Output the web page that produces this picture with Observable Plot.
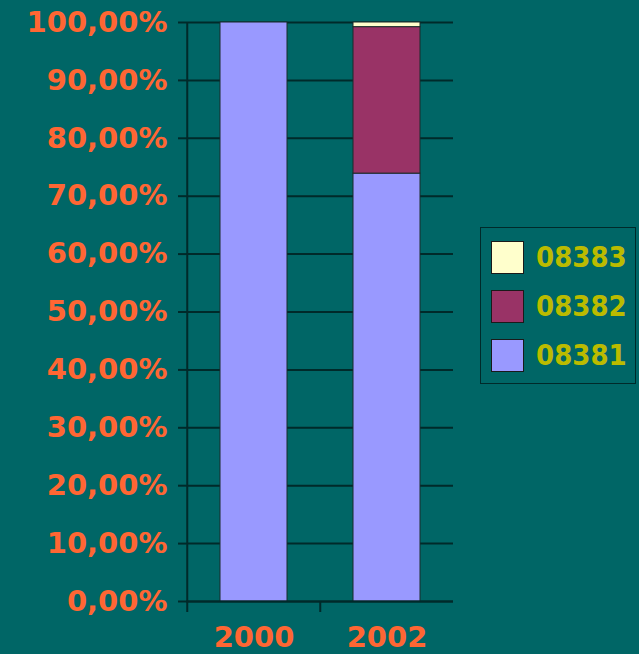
<!DOCTYPE html>
<html>
<head>
<meta charset="utf-8">
<script src="https://cdn.jsdelivr.net/npm/d3@7"></script>
<script src="https://cdn.jsdelivr.net/npm/@observablehq/plot@0.6"></script>
<style>
  html, body { margin: 0; padding: 0; background: #006666; }
  #wrap { position: relative; width: 639px; height: 654px; background: #006666; overflow: hidden; }
  #legend { position: absolute; left: 480px; top: 227px; width: 154px; height: 155px;
            border: 1.5px solid #002a2a; box-sizing: content-box; }
  .item { position: absolute; left: 10px; display: flex; align-items: center; }
  .sw { width: 31px; height: 31px; border: 1px solid #1a1a1a; box-sizing: content-box; }
  .lbl { margin-left: 12px; font-family: "DejaVu Sans Condensed", "DejaVu Sans", sans-serif;
         font-stretch: condensed; font-weight: bold; font-size: 29px; color: #BBBB00; line-height: 33px; }
</style>
</head>
<body>
<div id="wrap"></div>
<script>
const years = ["2000", "2002"];
const series = ["08381", "08382", "08383"];
const v08381 = [100, 73.9];
const v08382 = [0, 25.3];
const v08383 = [0, 0.8];
const colors = ["#9999FF", "#993366", "#FFFFCC"];
const yTicks = [0, 10, 20, 30, 40, 50, 60, 70, 80, 90, 100];

const values = [v08381, v08382, v08383];
const rows = [];
series.forEach((s, i) => years.forEach((y, j) => rows.push({year: y, series: s, value: values[i][j]})));

const W = 639, H = 654, ML = 186, MR = 186, MT = 22, MB = 53;
const step = (W - ML - MR) / years.length;
const dark = "#002a2a";
const orange = "#FF6633";

const chart = Plot.plot({
  width: W, height: H,
  marginLeft: ML, marginRight: MR, marginTop: MT, marginBottom: MB,
  style: {background: "transparent", color: dark, fontFamily: "DejaVu Sans, sans-serif", fontWeight: "bold"},
  x: {type: "band", domain: years, paddingInner: 0.5, paddingOuter: 0.25, label: null},
  y: {domain: [0, 100], label: null},
  color: {domain: series, range: colors},
  marks: [
    Plot.gridY(yTicks, {stroke: dark, strokeOpacity: 1, strokeWidth: 2}),
    Plot.barY(rows, {x: "year", y: "value", z: "series", fill: "series", stroke: "#1a2a2a", strokeWidth: 1}),
    Plot.ruleY([0], {stroke: dark, strokeWidth: 2}),
    Plot.ruleX([years[0]], {dx: -step / 2, stroke: dark, strokeWidth: 2}),
    Plot.axisY(yTicks, {tickSize: 8, tickPadding: 11, stroke: dark, strokeWidth: 2, fill: orange, fontSize: 29, fontWeight: "bold",
      tickFormat: d => d.toFixed(2).replace(".", ",") + "%", label: null}),
    Plot.axisX(years, {tickSize: 11, dx: -step / 2, stroke: dark, strokeWidth: 2, tickFormat: () => "", label: null}),
    Plot.axisX(years, {tickSize: 0, tickPadding: 25, fill: orange, fontSize: 29, fontWeight: "bold", label: null})
  ]
});

const wrap = document.getElementById("wrap");
wrap.appendChild(chart);
chart.style.position = "absolute";
chart.style.left = "0px";
chart.style.top = "0px";

const legend = document.createElement("div");
legend.id = "legend";
const order = series.map((s, i) => i).reverse();
order.forEach((i, k) => {
  const item = document.createElement("div");
  item.className = "item";
  item.style.top = (13 + k * 49) + "px";
  const sw = document.createElement("div");
  sw.className = "sw";
  sw.style.background = colors[i];
  const lbl = document.createElement("span");
  lbl.className = "lbl";
  lbl.textContent = series[i];
  item.appendChild(sw);
  item.appendChild(lbl);
  legend.appendChild(item);
});
wrap.appendChild(legend);
</script>
</body>
</html>
